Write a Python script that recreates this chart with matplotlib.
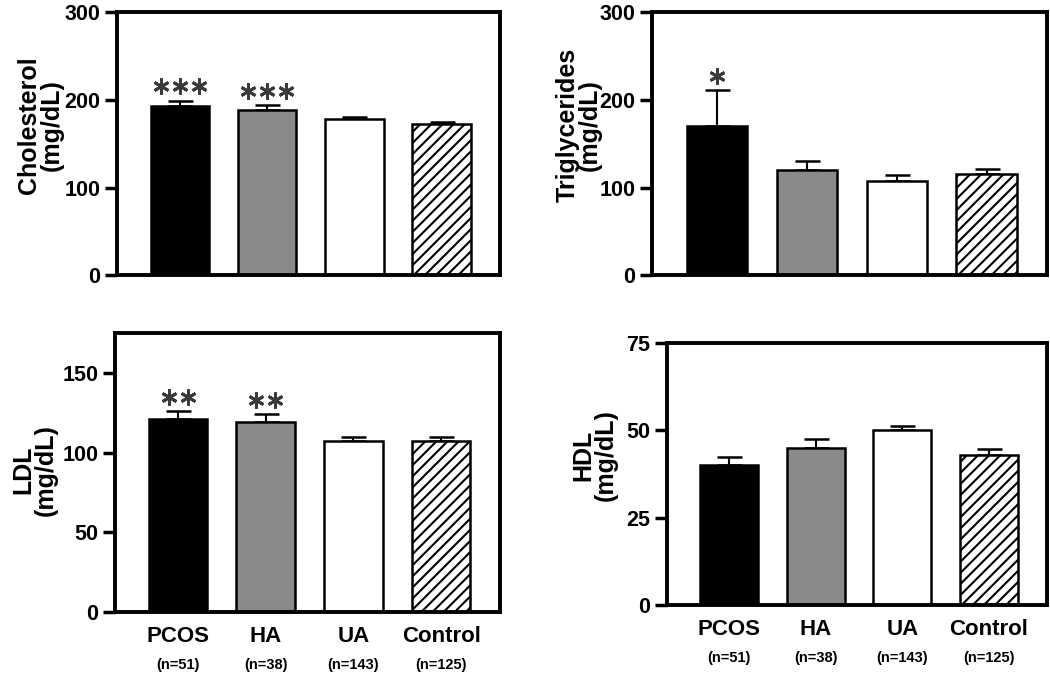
import matplotlib as mpl
import matplotlib.pyplot as plt
from matplotlib.transforms import offset_copy

mpl.use('Agg')

groups = ["PCOS", "HA", "UA", "Control"]
n_labels = ["(n=51)", "(n=38)", "(n=143)", "(n=125)"]

chol = [193, 188, 178, 173]
chol_err = [6, 6, 3, 2]
chol_sig = [3, 3, 0, 0]

trig = [170, 120, 107, 115]
trig_err = [41, 10, 7, 6]
trig_sig = [1, 0, 0, 0]

ldl = [121, 119, 107, 107]
ldl_err = [5, 5, 3, 3]
ldl_sig = [2, 2, 0, 0]

hdl = [40, 45, 50, 43]
hdl_err = [2.2, 2.4, 1.3, 1.5]
hdl_sig = [0, 0, 0, 0]

fills = ["black", "#8a8a8a", "white", "white"]
hatches = [None, None, None, "///"]

plt.rcParams['font.family'] = ['Liberation Sans', 'DejaVu Sans']
plt.rcParams['font.weight'] = 'bold'
plt.rcParams['axes.labelweight'] = 'bold'
plt.rcParams['hatch.linewidth'] = 1.5

fig = plt.figure(figsize=(10.5, 6.81), dpi=100)

# name, values, errors, stars, ylim, yticks, axes rect, label pos, show group labels
panels = [
    ("Cholesterol", chol, chol_err, chol_sig, 300, [0, 100, 200, 300],
     [0.1114, 0.596, 0.365, 0.386], (-0.14, 0.57), False),
    ("Triglycerides", trig, trig_err, trig_sig, 300, [0, 100, 200, 300],
     [0.621, 0.596, 0.376, 0.386], (-0.128, 0.57), False),
    ("LDL", ldl, ldl_err, ldl_sig, 175, [0, 50, 100, 150],
     [0.1095, 0.1013, 0.3665, 0.4097], (-0.15, 0.51), True),
    ("HDL", hdl, hdl_err, hdl_sig, 75, [0, 25, 50, 75],
     [0.635, 0.1116, 0.362, 0.3852], (-0.13, 0.57), True),
]

x = list(range(len(groups)))

for name, vals, errs, sig, ymax, yt, rect, lpos, show_x in panels:
    ax = fig.add_axes(rect)
    for i in x:
        ax.bar(i, vals[i], width=0.67, color=fills[i], edgecolor='black',
               linewidth=1.8, hatch=hatches[i], zorder=2)
    ax.errorbar(x, vals, yerr=[[0] * 4, errs], fmt='none', ecolor='black',
                elinewidth=1.5, capsize=9, capthick=1.8, zorder=1)
    # significance stars just above the error bar caps
    for i in x:
        for k in range(sig[i]):
            tr = offset_copy(ax.transData, fig=fig,
                             x=(k - (sig[i] - 1) / 2) * 13.8, y=10.5,
                             units='points')
            ax.plot(i, vals[i] + errs[i], marker=(6, 2, 0), markersize=11.5,
                    markeredgewidth=2.1, color='#3a3a3a', transform=tr,
                    clip_on=False)
    ax.set_xlim(-0.72, 3.67)
    ax.set_ylim(0, ymax)
    ax.set_yticks(yt)
    ax.tick_params(axis='y', direction='out', length=9, width=2.5,
                   labelsize=15.5, pad=3)
    for s in ax.spines.values():
        s.set_linewidth(2.8)
    ax.set_ylabel(name + "\n(mg/dL)", fontsize=18, linespacing=0.9)
    ax.yaxis.set_label_coords(*lpos)
    if show_x:
        ax.set_xticks(x, groups)
        ax.tick_params(axis='x', length=0, labelsize=16, pad=10)
        for i in x:
            ax.annotate(n_labels[i], (i, 0), xycoords=('data', 'axes fraction'),
                        xytext=(0, -38), textcoords='offset points',
                        ha='center', va='center', fontsize=10.5)
    else:
        ax.set_xticks([])

fig.savefig("out.png", dpi=100)
